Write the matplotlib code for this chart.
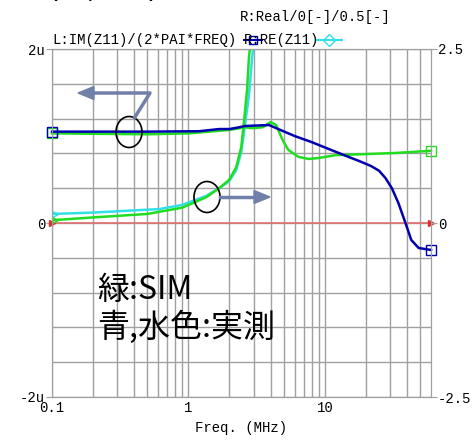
import numpy as np
import matplotlib
matplotlib.use('Agg')
from matplotlib import pyplot as plt
from matplotlib.patches import Ellipse, FancyArrow
from matplotlib.lines import Line2D

# L = IM(Z11)/(2*pi*f) in uH (left axis)
freq_l_meas = [0.1, 0.5, 1.2, 1.68, 2.0, 2.35, 2.6, 3.9, 4.4, 6.0, 8.0, 10.7, 14.9,
               18.0, 21.8, 25.0, 27.8, 31.0, 34.6, 39.0, 43.0, 48.7, 60.0]
l_meas = [1.05, 1.05, 1.055, 1.08, 1.08, 1.10, 1.115, 1.126, 1.09, 1.0, 0.93, 0.85,
          0.76, 0.71, 0.655, 0.60, 0.517, 0.40, 0.23, 0.0, -0.195, -0.287, -0.31]

freq_l_sim = [0.1, 0.5, 1.0, 1.68, 2.0, 2.6, 2.9, 3.5, 4.0, 4.4, 4.9, 5.4, 6.4,
              7.6, 9.0, 12.0, 18.6, 33.0, 60.0]
l_sim = [1.03, 1.02, 1.03, 1.06, 1.07, 1.10, 1.09, 1.10, 1.16, 1.126, 0.954, 0.84,
         0.76, 0.736, 0.747, 0.78, 0.79, 0.805, 0.83]

# R = RE(Z11) in ohm (right axis)
freq_r_sim = [0.1, 0.2, 0.5, 0.9, 1.35, 1.68, 1.99, 2.24, 2.44, 2.55, 2.69, 2.78,
              2.87, 3.1]
r_sim = [0.04, 0.08, 0.13, 0.22, 0.37, 0.50, 0.62, 0.80, 1.09, 1.44, 1.91, 2.39,
         2.63, 3.5]

freq_r_meas = [0.1, 0.2, 0.61, 0.9, 1.35, 1.68, 1.99, 2.24, 2.44, 2.6, 2.78, 2.92,
               3.02, 3.2]
r_meas = [0.13, 0.15, 0.20, 0.26, 0.39, 0.50, 0.60, 0.76, 1.02, 1.41, 1.84, 2.34,
          2.63, 3.5]

W, H = 472, 440
mono = 'Liberation Mono'
jp = ['Noto Sans CJK JP', 'DejaVu Sans']

def fx(x):
    return x / W

def fy(y):
    return 1 - y / H

fig = plt.figure(figsize=(4.72, 4.40), dpi=100)
ax = fig.add_axes([fx(52), fy(397), fx(431) - fx(52), fy(49) - fy(397)])
ax2 = ax.twinx()

gc = '#a0a0a0'
ax.set_xscale('log')
ax.set_xlim(0.1, 60)
ax.set_ylim(-2, 2)
ax2.set_ylim(-2.5, 2.5)

ax.set_xticks([0.1, 1, 10])
ax.set_xticklabels(['0.1', '1', '10'], family=mono, fontsize=10)
ax.set_xticks([0.2, 0.3, 0.4, 0.5, 0.6, 0.7, 0.8, 0.9, 2, 3, 4, 5, 6, 7, 8, 9,
               20, 30, 40, 50], minor=True)
ax.set_xticklabels([], minor=True)
ax.set_yticks([-2, 0, 2])
ax.set_yticklabels(['-2u', '0', '2u'], family=mono, fontsize=10)
ax.set_yticks(np.linspace(-2, 2, 11), minor=True)
ax2.set_yticks([-2.5, 0, 2.5])
ax2.set_yticklabels(['-2.5', '0', '2.5'], family=mono, fontsize=10)
ax.grid(True, which='both', color=gc, lw=1)
ax.tick_params(axis='x', which='both', length=0, pad=3)
ax.tick_params(axis='y', which='major', length=4, color=gc, pad=1)
ax.tick_params(axis='y', which='minor', length=0)
ax2.tick_params(axis='y', length=4, color=gc, pad=1)
for a in (ax, ax2):
    for s in a.spines.values():
        s.set_color(gc)

ax.set_xlabel('Freq. (MHz)', family=mono, fontsize=10, labelpad=4)

# zero line
ax.axhline(0, color='#e07070', lw=1.2, zorder=2)
ax.plot([0.1, 60], [0, 0], ls='none', marker='>', ms=4, color='#e03030',
        clip_on=False, zorder=3)

# curves
ax2.plot(freq_r_meas, r_meas, color='#30e0e8', lw=1.8, marker='>', mfc='none',
         ms=8, markevery=[0])
ax2.plot(freq_r_sim, r_sim, color='#20dd20', lw=1.8, marker='>', mfc='none',
         ms=8, markevery=[0])
ax2.plot(freq_l_sim, np.array(l_sim) * 1.25, color='#20dd20', lw=1.8, marker='s',
         mfc='none', ms=7, markevery=[0, -1], clip_on=False)
ax2.plot(freq_l_meas, np.array(l_meas) * 1.25, color='#0000b0', lw=1.8, marker='s',
         mfc='none', ms=7, markevery=[0, -1], clip_on=False)
ax2.set_ylim(-2.5, 2.5)

# header texts
fig.text(fx(240), fy(17), 'R:Real/0[-]/0.5[-]', family=mono, fontsize=10,
         va='center', ha='left')
fig.text(fx(52), fy(40), 'L:IM(Z11)/(2*PAI*FREQ)', family=mono, fontsize=10,
         va='center', ha='left')
fig.text(fx(244), fy(40), 'R:RE(Z11)', family=mono, fontsize=10,
         va='center', ha='left')
fig.add_artist(Line2D([fx(244), fx(262)], [fy(40), fy(40)], color='#0000b0', lw=1.5))
fig.add_artist(Line2D([fx(253)], [fy(40)], marker='s', mfc='none', mec='#0000b0',
                      ms=6))
fig.add_artist(Line2D([fx(316), fx(342)], [fy(40), fy(40)], color='#30e0e8', lw=1.5))
fig.add_artist(Line2D([fx(329)], [fy(40)], marker='D', mfc='none', mec='#30e0e8',
                      ms=6))

# big heading, mostly above the top edge (only its lowest pixels show)
fig.text(fx(-2), fy(-3), 'Z   ( L,  R )', fontsize=22, va='baseline', ha='left')

# notes
fig.text(fx(97), fy(290), '緑:SIM', family=jp, fontsize=23, va='center')
fig.text(fx(97), fy(327), '青,水色:実測', family=jp, fontsize=23, va='center')

# circles and arrows
ac = '#7080a8'
for cx, cy in [(129, 132), (207, 197)]:
    fig.add_artist(Ellipse((fx(cx), fy(cy)), 26 / W, 31 / H, fill=False,
                           ec='black', lw=1.2, transform=fig.transFigure))
fig.add_artist(Line2D([fx(135), fx(150), fx(92)], [fy(117), fy(93), fy(93)],
                      color=ac, lw=2.5))
fig.add_artist(FancyArrow(fx(94), fy(93), -(16 / W), 0, width=0,
                          head_width=13 / H, head_length=16 / W,
                          length_includes_head=True, color=ac,
                          transform=fig.transFigure))
fig.add_artist(Line2D([fx(220), fx(256)], [fy(197), fy(197)], color=ac, lw=2.5))
fig.add_artist(FancyArrow(fx(254), fy(197), 16 / W, 0, width=0,
                          head_width=13 / H, head_length=16 / W,
                          length_includes_head=True, color=ac,
                          transform=fig.transFigure))

fig.savefig('out.png', dpi=100)
